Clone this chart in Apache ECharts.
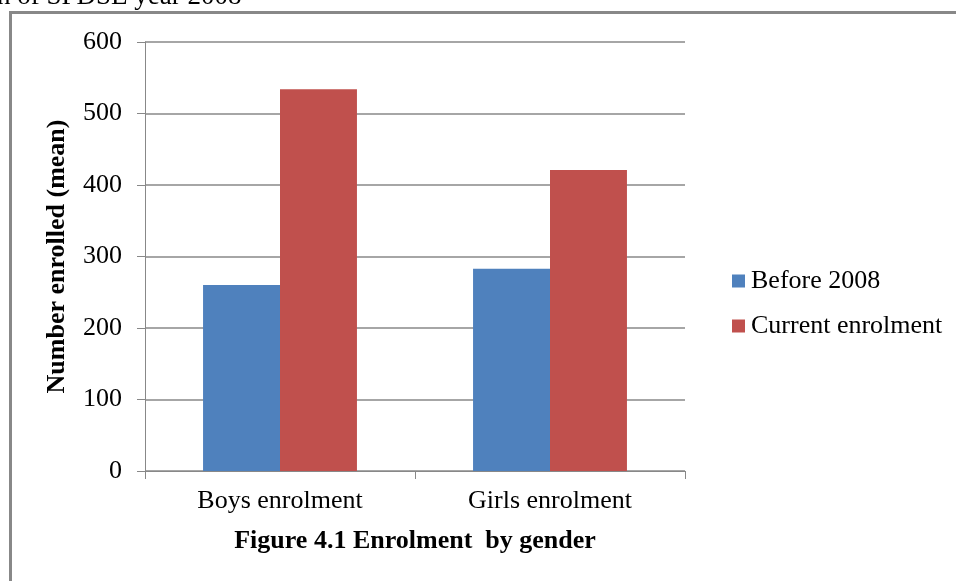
<!DOCTYPE html>
<html>
<head>
<meta charset="utf-8">
<script src="https://cdn.jsdelivr.net/npm/echarts@6/dist/echarts.min.js"></script>
<style>
  html, body { margin: 0; padding: 0; background: #fff; }
  #main { width: 956px; height: 581px; }
</style>
</head>
<body>
<div id="main"></div>
<script>
// data
const categories = ['Boys enrolment', 'Girls enrolment']
const before2008 = [260, 283]
const currentEnrolment = [534, 421]
const seriesNames = ['Before 2008', 'Current enrolment']

const serif = '"Liberation Serif", "Times New Roman", serif'
const grey = '#888888'

let myChart = echarts.init(document.getElementById('main'))

let option = {
    animation: false,
    backgroundColor: '#ffffff',
    textStyle: { fontFamily: serif },
    grid: { left: 145, right: 271, top: 42, bottom: 110, containLabel: false },
    legend: {
        orient: 'vertical',
        left: 727,
        top: 263,
        itemWidth: 13,
        itemHeight: 13,
        itemGap: 19,
        icon: 'rect',
        data: seriesNames,
        textStyle: { fontFamily: serif, fontSize: 26, color: '#000', padding: [0, 0, 0, 1] }
    },
    xAxis: {
        type: 'category',
        data: categories,
        axisLine: { lineStyle: { color: grey, width: 1 } },
        axisTick: { show: true, length: 8, lineStyle: { color: grey } },
        axisLabel: { fontFamily: serif, fontSize: 26, color: '#000', margin: 17 }
    },
    yAxis: {
        type: 'value',
        min: 0,
        max: 600,
        interval: 100,
        name: 'Number enrolled (mean)',
        nameLocation: 'middle',
        nameGap: 75,
        nameTextStyle: { fontFamily: serif, fontSize: 26, fontWeight: 'bold', color: '#000' },
        axisLine: { show: true, lineStyle: { color: grey, width: 1 } },
        axisTick: { show: true, length: 8, lineStyle: { color: grey } },
        axisLabel: { fontFamily: serif, fontSize: 26, color: '#000', margin: 23 },
        splitLine: { lineStyle: { color: grey, width: 1.5 } }
    },
    series: [
        {
            name: seriesNames[0],
            type: 'bar',
            data: before2008,
            barGap: '0%',
            barCategoryGap: '43%',
            itemStyle: { color: '#4F81BD' }
        },
        {
            name: seriesNames[1],
            type: 'bar',
            data: currentEnrolment,
            barGap: '0%',
            barCategoryGap: '43%',
            itemStyle: { color: '#C0504D' }
        }
    ],
    graphic: [
        // frame lines (left and top only)
        { type: 'line', shape: { x1: 10.5, y1: 11, x2: 10.5, y2: 581 }, style: { stroke: grey, lineWidth: 3 } },
        { type: 'line', shape: { x1: 9, y1: 12.5, x2: 956, y2: 12.5 }, style: { stroke: grey, lineWidth: 3 } },
        // cut-off caption from the page above
        { type: 'text', x: -3, y: 10, style: { text: 'n of SPDSE year 2008', fontFamily: serif, fontSize: 27, fill: '#000', textVerticalAlign: 'bottom' } },
        // figure caption
        { type: 'text', x: 415, y: 541, style: { text: 'Figure 4.1 Enrolment  by gender', fontFamily: serif, fontSize: 26, fontWeight: 'bold', fill: '#000', textAlign: 'center', textVerticalAlign: 'middle' } }
    ]
}

myChart.setOption(option)
</script>
</body>
</html>
